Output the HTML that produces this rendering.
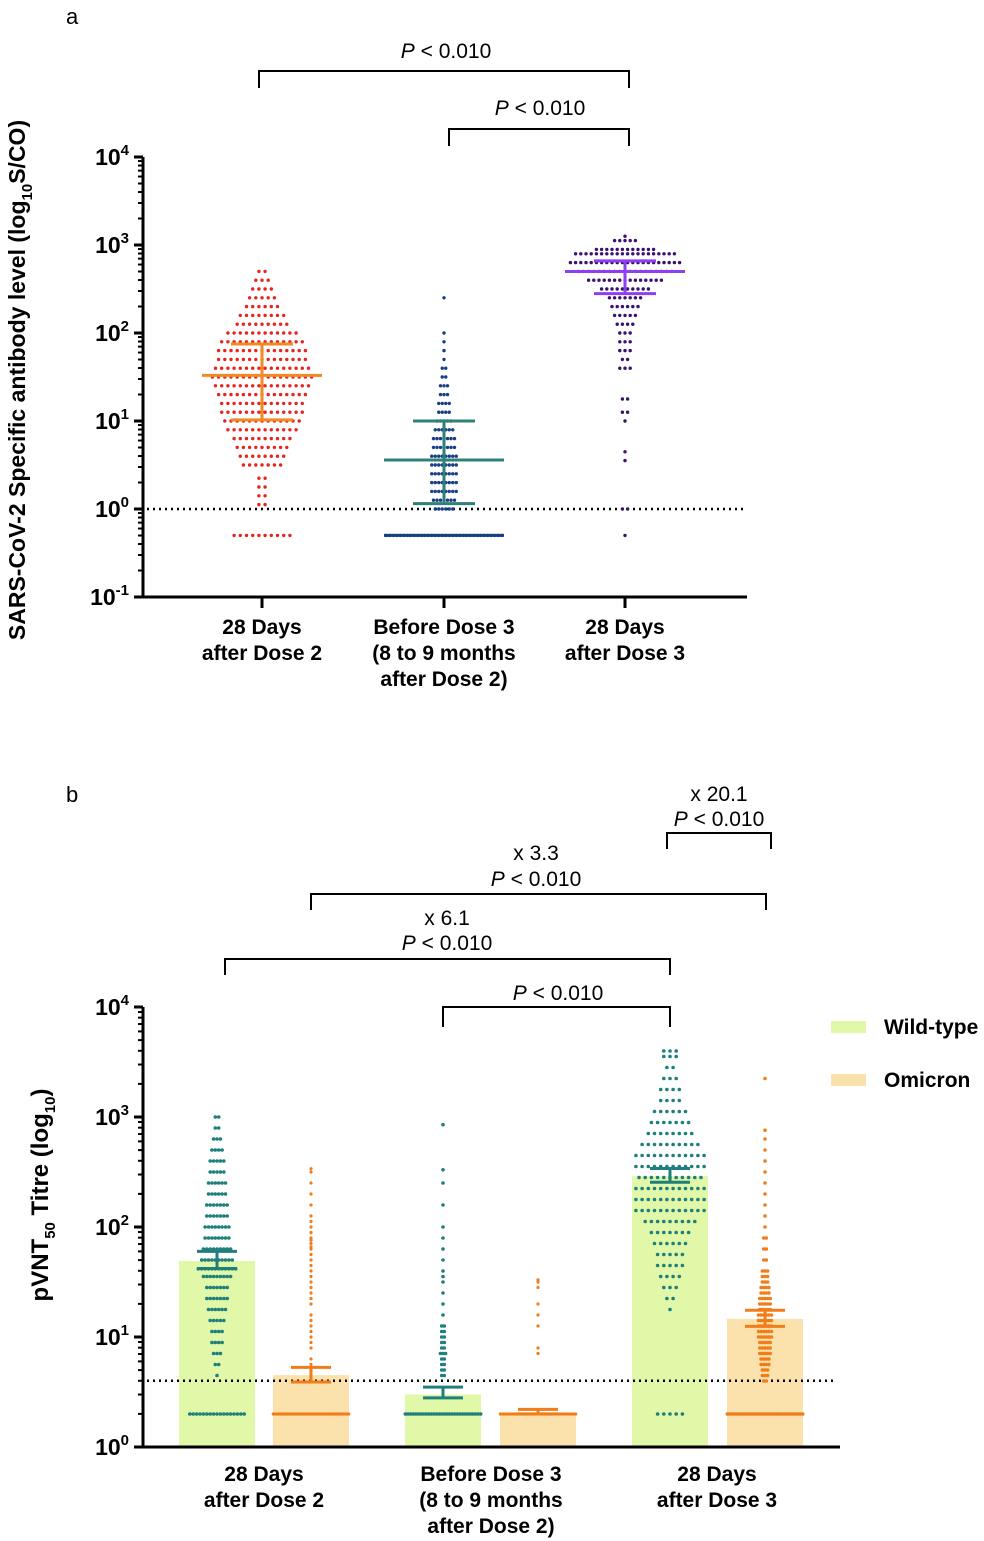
<!DOCTYPE html>
<html><head><meta charset="utf-8">
<style>
html,body{margin:0;padding:0;background:#fff;}
svg{display:block;font-family:"Liberation Sans",Arial,sans-serif;}
.t{font-weight:bold;fill:#000;}
</style></head>
<body>
<svg id="chart" width="984" height="1541" viewBox="0 0 984 1541"></svg>
<script>
// ---------- Panel a data (log10 values per row, counts per row) ----------
const aCategories = ["28 Days|after Dose 2", "Before Dose 3|(8 to 9 months|after Dose 2)", "28 Days|after Dose 3"];
const a1Levels = [-0.3,0.05,0.15,0.25,0.35,0.5,0.6,0.7,0.8,0.9,1.0,1.1,1.2,1.3,1.4,1.5,1.6,1.7,1.8,1.9,2.0,2.1,2.2,2.3,2.4,2.5,2.6,2.7];
const a1Counts = [10,2,2,2,2,7,8,9,10,12,13,14,14,15,16,17,16,15,15,14,12,9,8,6,5,4,3,2];
const a2Levels = [-0.3,0.0,0.1,0.2,0.3,0.4,0.5,0.6,0.7,0.8,0.9,1.0,1.1,1.2,1.3,1.4,1.5,1.6,1.7,1.8,1.9,2.0,2.4];
const a2Counts = [34,6,7,8,8,8,8,8,7,7,6,5,4,4,3,3,2,2,1,1,1,1,1];
const a3Levels = [-0.3,0.0,0.55,0.65,1.0,1.1,1.25,1.6,1.7,1.8,1.9,2.0,2.1,2.2,2.3,2.4,2.5,2.6,2.7,2.8,2.9,2.95,3.05,3.1];
const a3Counts = [1,2,1,1,1,2,2,3,2,3,3,3,4,5,6,7,10,15,19,22,20,12,5,1];
// error bars [median, q1, q3] in raw units
const aMedians = [33, 3.6, 500];
const aQ1 = [10.3, 1.15, 280];
const aQ3 = [75, 10, 660];
const aTicks = [-1,0,1,2,3,4];

// ---------- Panel b data ----------
const bCategories = ["28 Days|after Dose 2", "Before Dose 3|(8 to 9 months|after Dose 2)", "28 Days|after Dose 3"];
const bBarValues = [49, 4.5, 3.0, 2.05, 290, 14.6];
const bErrHigh = [60, 5.3, 3.5, 2.2, 340, 17.5];
const bErrLow = [42, 3.9, 2.8, 2.0, 255, 12.5];
const b1Levels = [0.3,0.65,0.75,0.85,0.95,1.05,1.15,1.25,1.35,1.45,1.55,1.62,1.7,1.8,1.9,2.0,2.1,2.2,2.3,2.4,2.5,2.6,2.7,2.8,2.9,3.0];
const b1Counts = [17,1,2,3,4,4,5,6,7,7,9,12,10,9,8,8,7,7,6,6,5,5,4,3,2,2];
const b2Levels = [0.3,0.62,0.65,0.7,0.75,0.8,0.9,0.95,1.0,1.05,1.1,1.15,1.2,1.3,1.35,1.4,1.45,1.5,1.55,1.6,1.65,1.7,1.75,1.8,1.82,1.85,1.88,1.9,1.95,2.0,2.05,2.1,2.2,2.3,2.4,2.5,2.53];
const b2Counts = [30,1,1,1,1,1,1,1,1,1,1,1,1,1,1,1,1,1,1,1,1,1,1,1,1,1,1,1,1,1,1,1,1,1,1,1,1];
const b3Levels = [0.3,0.65,0.7,0.75,0.8,0.85,0.9,0.95,1.0,1.05,1.1,1.2,1.3,1.4,1.5,1.55,1.6,1.7,1.8,1.9,2.0,2.2,2.4,2.52,2.93];
const b3Counts = [30,2,2,2,2,3,2,2,2,2,2,1,1,1,1,1,1,1,1,1,1,1,1,1,1];
const b4Levels = [0.3,0.85,0.9,1.1,1.2,1.3,1.45,1.5,1.52];
const b4Counts = [30,1,1,1,1,1,1,1,1];
const b5Levels = [0.3,1.25,1.35,1.45,1.55,1.65,1.75,1.85,1.95,2.05,2.15,2.25,2.35,2.45,2.55,2.65,2.75,2.85,2.95,3.05,3.15,3.25,3.35,3.45,3.55,3.6];
const b5Counts = [5,1,2,3,4,5,5,6,7,9,12,12,12,11,12,12,10,8,7,6,4,4,3,2,3,3];
const b6Levels = [0.3,0.6,0.65,0.7,0.75,0.8,0.85,0.9,0.95,1.0,1.05,1.1,1.15,1.2,1.25,1.3,1.35,1.4,1.45,1.5,1.55,1.6,1.7,1.8,1.9,2.0,2.1,2.2,2.3,2.4,2.5,2.6,2.7,2.8,2.88,3.35];
const b6Counts = [30,2,3,3,4,4,5,5,5,6,6,6,6,6,5,5,5,4,4,3,3,3,2,2,2,1,1,1,1,1,1,1,1,1,1,1];
const bTicks = [0,1,2,3,4];
const legendLabels = ["Wild-type","Omicron"];

// ---------- helpers ----------
const svg = document.getElementById('chart');
const NS = 'http://www.w3.org/2000/svg';
function mk(tag, attrs, parent){
  const e = document.createElementNS(NS, tag);
  for (const k in attrs) e.setAttribute(k, attrs[k]);
  (parent||svg).appendChild(e);
  return e;
}
const yA = lv => 509 - 88*lv;            // panel a: log10 value -> px
const yB = lv => 1447 - 110*lv;          // panel b
const lg = v => Math.log10(v);

function swarm(levels, counts, cx, yf, dx, r, color, name, g){
  levels.forEach((lv, i) => {
    const n = counts[i];
    for (let j = 0; j < n; j++){
      const c = mk('circle', {cx: cx + (j - (n-1)/2)*dx, cy: yf(lv), r: r, fill: color}, g);
      
      
    }
  });
}
function hline(x1,x2,y,color,w,g,name){
  const l = mk('line',{x1:x1,x2:x2,y1:y,y2:y,stroke:color,'stroke-width':w},g);
  
  
  return l;
}
function vline(x,y1,y2,color,w,g,name){
  const l = mk('line',{x1:x,x2:x,y1:y1,y2:y2,stroke:color,'stroke-width':w},g);
  
  
  return l;
}
function text(x,y,str,attrs,name){
  const t = mk('text', Object.assign({x:x,y:y}, attrs||{}));
  t.textContent = str;
  
  
  return t;
}
function pText(x,y,prefix,name){
  const t = mk('text',{x:x,y:y,'text-anchor':'middle','font-size':21});
  
  
  const s1 = mk('tspan',{'font-style':'italic'},t); s1.textContent = 'P';
  const s2 = mk('tspan',{},t); s2.textContent = ' < 0.010';
  return t;
}
function bracket(x1,x2,yTop,yBot,name){
  const p = mk('path',{d:`M${x1},${yBot} V${yTop} H${x2} V${yBot}`,fill:'none',stroke:'#000','stroke-width':2});
  
  
}
function logAxis(ticks, yf, x, name){
  const g = mk('g',{});
  
  
  vline(x, yf(ticks[ticks.length-1]), yf(ticks[0])+1.5, '#000', 3, g, name+'-line');
  ticks.forEach((t,i) => {
    hline(x-9, x, yf(t), '#000', 3, g, name+'-major-tick');
    const lab = mk('text',{x:x-14,y:yf(t)+8,'text-anchor':'end','font-size':23,'class':'t'},g);
    
    
    const b = mk('tspan',{},lab); b.textContent = '10';
    const s = mk('tspan',{dy:-10,'font-size':15},lab); s.textContent = String(t);
    if (i < ticks.length-1){
      for (let m = 2; m <= 9; m++){
        hline(x-5, x, yf(t + Math.log10(m)), '#000', 2, g, name+'-minor-tick');
      }
    }
  });
}
function catLabels(cats, xs, y0, name){
  cats.forEach((c,i) => {
    c.split('|').forEach((line,k) => {
      text(xs[i], y0 + k*26, line, {'text-anchor':'middle','font-size':21,'class':'t'}, name);
    });
  });
}

// ---------- Panel a ----------
text(66, 24, 'a', {'font-size':22}, 'panel-a-label');
pText(446, 58, 'P', 'pvalue-a-1');
bracket(259, 629, 71, 88, 'bracket-a-1');
pText(540, 115, 'P', 'pvalue-a-2');
bracket(449, 629, 129, 146, 'bracket-a-2');

const aX = [262, 444, 625];
const ga = mk('g',{});  
// dotted threshold
const da = hline(147, 745, yA(0), '#000', 2.5, ga, 'threshold-line-a');
da.setAttribute('stroke-dasharray','2 4');
swarm(a1Levels, a1Counts, aX[0], yA, 6.2, 1.7, '#e8241c', 'after-dose2', ga);
swarm(a2Levels, a2Counts, aX[1], yA, 3.5, 1.7, '#173f85', 'before-dose3', ga);
swarm(a3Levels, a3Counts, aX[2], yA, 5.2, 1.7, '#3a1070', 'after-dose3', ga);
const aColors = ['#f08a24', '#2f8078', '#8f3ff2'];
aX.forEach((cx,i) => {
  vline(cx, yA(lg(aQ3[i])), yA(lg(aQ1[i])), aColors[i], 3, ga, 'error-bar-a-'+(i+1));
  hline(cx-60, cx+60, yA(lg(aMedians[i])), aColors[i], 3, ga, 'median-a-'+(i+1));
  hline(cx-31, cx+31, yA(lg(aQ1[i])), aColors[i], 3, ga, 'q1-a-'+(i+1));
  hline(cx-31, cx+31, yA(lg(aQ3[i])), aColors[i], 3, ga, 'q3-a-'+(i+1));
});
// navy line at 0.5 for before dose3 (dense points)
hline(aX[1]-60, aX[1]+60, yA(-0.3), '#173f85', 3, ga, 'below-threshold-a-2');
logAxis(aTicks, yA, 143, 'y-axis-a');
hline(142, 747, 597, '#000', 3, ga, 'x-axis-a');
aX.forEach(cx => vline(cx, 597, 608, '#000', 3, ga, 'x-tick-a'));
catLabels(aCategories, aX, 634, 'x-label-a');
const yta = text(0,0,'',{'font-size':23,'class':'t','text-anchor':'middle',transform:'translate(25,380) rotate(-90)'}, 'y-axis-title-a');
(function(){const a=mk('tspan',{},yta);a.textContent='SARS-CoV-2 Specific antibody level (log';
const b=mk('tspan',{dy:7,'font-size':15},yta);b.textContent='10';
const c=mk('tspan',{dy:-7},yta);c.textContent='S/CO)';})();

// ---------- Panel b ----------
text(66, 802, 'b', {'font-size':22}, 'panel-b-label');
text(719, 801, 'x 20.1', {'text-anchor':'middle','font-size':21}, 'fold-b-1');
pText(719, 826, 'P', 'pvalue-b-1');
bracket(667, 771, 833, 849, 'bracket-b-1');
text(536, 860, 'x 3.3', {'text-anchor':'middle','font-size':21}, 'fold-b-2');
pText(536, 886, 'P', 'pvalue-b-2');
bracket(311, 766, 894, 910, 'bracket-b-2');
text(447, 925, 'x 6.1', {'text-anchor':'middle','font-size':21}, 'fold-b-3');
pText(447, 950, 'P', 'pvalue-b-3');
bracket(225, 670, 959, 975, 'bracket-b-3');
pText(558, 1000, 'P', 'pvalue-b-4');
bracket(443, 670, 1007, 1027, 'bracket-b-4');

const bX = [217, 311, 443, 538, 670, 765];
const bFill = ['#e1f8a8', '#fbe1ab'];
const bDot = ['#1f7f7c', '#f07d1a'];
const gb = mk('g',{});  
bBarValues.forEach((v,i) => {
  const top = yB(lg(v));
  const r = mk('rect',{x:bX[i]-38,y:top,width:76,height:1447-top,fill:bFill[i%2]},gb);
  
  
});
const db = hline(147, 835, yB(lg(4)), '#000', 2.5, gb, 'threshold-line-b');
db.setAttribute('stroke-dasharray','2 4');
// dense lower-limit lines
[1,2,3,5].forEach(i => hline(bX[i]-38, bX[i]+38, yB(0.3), bDot[i%2], 3, gb, 'lower-limit-line-'+i));
swarm(b1Levels, b1Counts, bX[0], yB, 3.4, 1.8, bDot[0], 'wild-type-dose2', gb);
swarm(b2Levels, b2Counts, bX[1], yB, 2.6, 1.6, bDot[1], 'omicron-dose2', gb);
swarm(b3Levels, b3Counts, bX[2], yB, 2.6, 1.8, bDot[0], 'wild-type-before3', gb);
swarm(b4Levels, b4Counts, bX[3], yB, 2.6, 1.6, bDot[1], 'omicron-before3', gb);
swarm(b5Levels, b5Counts, bX[4], yB, 6.2, 1.8, bDot[0], 'wild-type-dose3', gb);
swarm(b6Levels, b6Counts, bX[5], yB, 2.6, 1.8, bDot[1], 'omicron-dose3', gb);
bX.forEach((cx,i) => {
  const c = bDot[i%2];
  vline(cx, yB(lg(bErrHigh[i])), yB(lg(bErrLow[i])), c, 3, gb, 'error-bar-b-'+(i+1));
  hline(cx-20, cx+20, yB(lg(bErrHigh[i])), c, 3, gb, 'error-cap-high-b-'+(i+1));
  hline(cx-20, cx+20, yB(lg(bErrLow[i])), c, 3, gb, 'error-cap-low-b-'+(i+1));
});
logAxis(bTicks, yB, 143, 'y-axis-b');
hline(142, 840, 1447, '#000', 3, gb, 'x-axis-b');
catLabels(bCategories, [264, 491, 717], 1481, 'x-label-b');
const ytb = text(0,0,'',{'font-size':24,'class':'t','text-anchor':'middle',transform:'translate(48,1195) rotate(-90)'}, 'y-axis-title-b');
(function(){const a=mk('tspan',{},ytb);a.textContent='pVNT';
const b=mk('tspan',{dy:7,'font-size':15},ytb);b.textContent='50';
const c=mk('tspan',{dy:-7},ytb);c.textContent=' Titre (log';
const d=mk('tspan',{dy:7,'font-size':15},ytb);d.textContent='10';
const e=mk('tspan',{dy:-7},ytb);e.textContent=')';})();

// legend
legendLabels.forEach((lab,i) => {
  const y = 1021 + i*53;
  const r = mk('rect',{x:831,y:y,width:35,height:12,fill:bFill[i]});
  
  
  text(884, y+13, lab, {'font-size':21,'class':'t'}, 'legend-entry-'+lab.toLowerCase());
});
</script>
</body></html>
